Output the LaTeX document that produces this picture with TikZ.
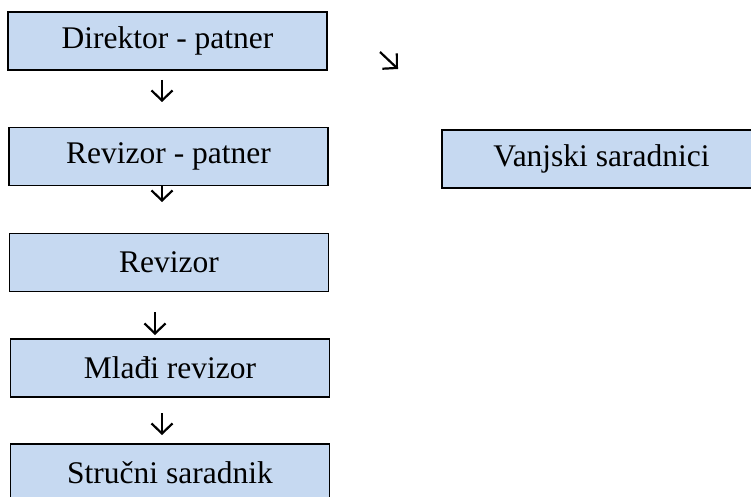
\documentclass[tikz,border=0pt]{standalone}
\usepackage{fontspec}
\setmainfont{Liberation Serif}
\usetikzlibrary{arrows.meta}
\definecolor{boxblue}{RGB}{198,217,241}

\begin{document}
\begin{tikzpicture}[x=1pt,y=-1pt,
  orgbox/.style={draw, fill=boxblue, line width=1.5pt, minimum width=319pt,
    minimum height=58pt, inner sep=0pt, font=\fontsize{31.5}{38}\selectfont},
  glypharr/.style={line width=2.2pt, -{Straight Barb[length=10pt,width=21pt,line width=2.2pt]}}]
\useasboundingbox (0,0) rectangle (751,497);
\clip (0,0) rectangle (751,497);
% left column
\node[orgbox] (direktor) at (167.5,41) {Direktor - patner};
\node[orgbox] (revpatner) at (168.5,156.5) {Revizor - patner};
\node[orgbox] (revizor) at (169,262.5) {Revizor};
\node[orgbox] (mladi) at (170,368) {Mla\dj i revizor};
\node[orgbox] (strucni) at (170,473) {Stru\v{c}ni saradnik};
% right
\node[orgbox] (vanjski) at (601.5,159) {Vanjski saradnici};
% arrows
\coordinate (a1s) at (162,80);  \coordinate (a1e) at (162,102);
\coordinate (a2s) at (162,185); \coordinate (a2e) at (162,202);
\coordinate (a3s) at (155,312); \coordinate (a3e) at (155,335);
\coordinate (a4s) at (162,413); \coordinate (a4e) at (162,435);
\coordinate (a5s) at (380,52);  \coordinate (a5e) at (398,69);
\draw[glypharr] (a1s) -- (a1e);
\draw[glypharr] (a2s) -- (a2e);
\draw[glypharr] (a3s) -- (a3e);
\draw[glypharr] (a4s) -- (a4e);
\draw[glypharr] (a5s) -- (a5e);
\end{tikzpicture}
\end{document}
